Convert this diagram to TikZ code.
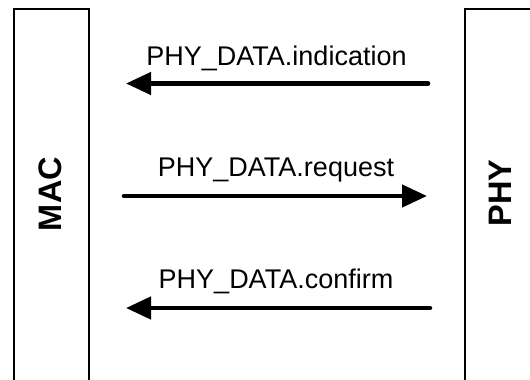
\documentclass[tikz,border=0pt]{standalone}
\usepackage{fontspec}
\setmainfont{Liberation Sans}
\usetikzlibrary{arrows.meta}
\begin{document}
\begin{tikzpicture}[x=1pt,y=1pt,
  layer/.style={draw,line width=1.5pt,minimum width=75pt,minimum height=420pt,inner sep=0pt},
  layername/.style={font=\fontsize{32.5}{38}\selectfont\bfseries,rotate=90,inner sep=0pt},
  prim/.style={line width=4.5pt,line cap=round,-{Triangle[length=25pt,width=22pt]}},
  primname/.style={font=\fontsize{27}{32}\selectfont,anchor=base,inner sep=0pt}]
\useasboundingbox (0,0) rectangle (530,-380);
\clip (0,0) rectangle (530,-380);
% the two layers, running off the bottom and right edges
\node[layer,anchor=north west] (mac) at (13,-8) {};
\node[layer,anchor=north west] (phy) at (464,-8) {};
\node[layername] (macname) at (50.5,-194) {MAC};
\node[layername] (phyname) at (500,-193) {PHY};
% arrow end points
\coordinate (indR) at (428,-83.5);
\coordinate (indL) at (126,-83.5);
\coordinate (reqL) at (124,-196);
\coordinate (reqR) at (427,-196);
\coordinate (cnfR) at (430,-308);
\coordinate (cnfL) at (126,-308);
% service primitives
\draw[prim] (indR) -- (indL);
\draw[prim] (reqL) -- (reqR);
\draw[prim] (cnfR) -- (cnfL);
\node[primname] (indname) at (276.5,-65) {PHY\_DATA.indication};
\node[primname] (reqname) at (276,-176) {PHY\_DATA.request};
\node[primname] (cnfname) at (276,-288.5) {PHY\_DATA.confirm};
\end{tikzpicture}
\end{document}
